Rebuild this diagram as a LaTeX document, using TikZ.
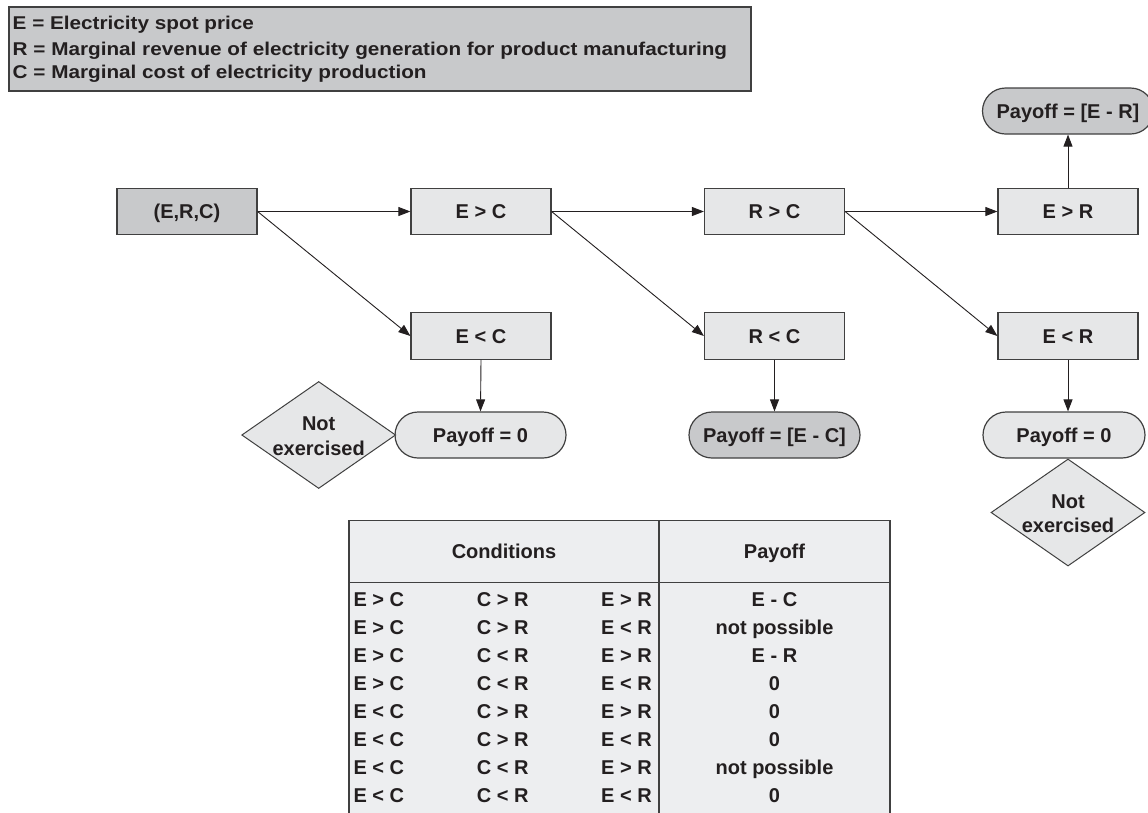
\documentclass[tikz,border=0pt]{standalone}
\usepackage{fontspec}
\setmainfont{Liberation Sans}
\newfontfamily\legfont{Liberation Sans}[FakeStretch=1.12]
\usetikzlibrary{arrows.meta,shapes.geometric}
\definecolor{boxfill}{HTML}{E6E7E8}
\definecolor{darkfill}{HTML}{C8C9CB}
\definecolor{tabfill}{HTML}{EDEEF0}
\definecolor{edge}{HTML}{404040}
\definecolor{txt}{HTML}{231F20}
\begin{document}
\begin{tikzpicture}[x=1pt,y=-1pt,
  font=\fontsize{20}{24.5}\selectfont\bfseries, text=txt,
  cond/.style={draw=edge, fill=boxfill, line width=1.2pt, minimum width=140pt, minimum height=46.5pt, inner sep=0pt, text height=14.3pt, text depth=0pt},
  pill/.style={draw=edge, fill=boxfill, line width=1.2pt, rounded corners=23pt, minimum width=171pt, minimum height=46pt, inner sep=0pt, text height=14.3pt, text depth=0pt},
  pilldark/.style={pill, fill=darkfill},
  decis/.style={diamond, draw=edge, fill=boxfill, line width=1pt, minimum width=154pt, minimum height=107pt, inner sep=0pt},
  tl/.style={inner sep=0pt, text height=14.3pt, text depth=0pt},
  legtext/.style={inner sep=0pt, anchor=west, font=\legfont\fontsize{18.5}{24}\selectfont\bfseries, text height=12.7pt, text depth=0pt},
  arr/.style={draw=txt, line width=0.9pt, -{Triangle[length=12pt,width=9pt]}}
]
\useasboundingbox (0,0) rectangle (1148,812);

% legend
\path[draw=edge, fill=darkfill, line width=1.2pt] (9,7) rectangle (751,91);
\node[legtext] (leg1) at (12.5,23.3) {E = Electricity spot price};
\node[legtext] (leg2) at (12.5,48.7) {R = Marginal revenue of electricity generation for product manufacturing};
\node[legtext] (leg3) at (12.5,72) {C = Marginal cost of electricity production};

% tree
\node[cond, fill=darkfill] (erc) at (187,211.5) {(E,R,C)};
\node[cond] (egc) at (481,211.5) {E > C};
\node[cond] (elc) at (481,336) {E < C};
\node[cond] (rgc) at (774.5,211.5) {R > C};
\node[cond] (rlc) at (774.5,336) {R < C};
\node[cond] (egr) at (1068,211.5) {E > R};
\node[cond] (elr) at (1068,336) {E < R};

\node[pilldark] (per) at (1068,111) {Payoff = [E - R]};
\node[pill] (p0a) at (480.5,435) {Payoff = 0};
\node[pilldark] (pec) at (774.5,435) {Payoff = [E - C]};
\node[pill, minimum width=162pt] (p0b) at (1064,435) {Payoff = 0};

\node[decis] (d1) at (318.7,435) {};
\node[align=center, inner sep=0pt] (d1t) at (318.7,436) {Not\\exercised};
\node[decis] (d2) at (1068,512.5) {};
\node[align=center, inner sep=0pt] (d2t) at (1068,513.5) {Not\\exercised};

\draw[arr] (erc.east) -- (egc.west);
\draw[arr] (erc.east) -- (elc.west);
\draw[arr] (egc.east) -- (rgc.west);
\draw[arr] (egc.east) -- (rlc.west);
\draw[arr] (rgc.east) -- (egr.west);
\draw[arr] (rgc.east) -- (elr.west);
\draw[arr] (egr.north) -- (per.south);
\draw[arr] (elc.south) -- (p0a.north);
\draw[arr] (rlc.south) -- (pec.north);
\draw[arr] (elr.south) -- (elr.south |- p0b.north);

% table
\path[draw=edge, fill=tabfill, line width=1.2pt] (349,520.7) rectangle (890,814);
\draw[edge, line width=1.2pt] (349,582.3) -- (890,582.3);
\draw[edge, line width=1.2pt] (659,520.7) -- (659,814);
\node[tl] (hc) at (504,551.5) {Conditions};
\node[tl] (hp) at (774.5,551.5) {Payoff};
\foreach \a/\b/\c/\p [count=\i] in {E > C/C > R/E > R/E - C, E > C/C > R/E < R/not possible, E > C/C < R/E > R/E - R, E > C/C < R/E < R/0, E < C/C > R/E > R/0, E < C/C > R/E < R/0, E < C/C < R/E > R/not possible, E < C/C < R/E < R/0}{
  \node[tl, anchor=west] (ra\i) at (353.3,{599+28.1*(\i-1)}) {\a};
  \node[tl, anchor=west] (rb\i) at (476.7,{599+28.1*(\i-1)}) {\b};
  \node[tl, anchor=east] (rc\i) at (652,{599+28.1*(\i-1)}) {\c};
  \node[tl] (rp\i) at (774.5,{599+28.1*(\i-1)}) {\p};
}
\end{tikzpicture}
\end{document}
